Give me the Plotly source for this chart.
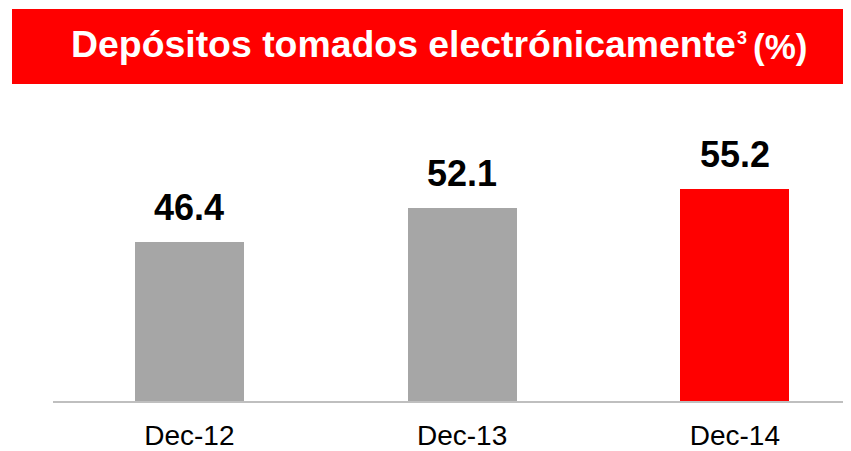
import plotly.graph_objects as go

categories = ["Dec-12", "Dec-13", "Dec-14"]
values = [46.4, 52.1, 55.2]
bar_colors = ["#a6a6a6", "#a6a6a6", "#ff0000"]
value_labels = ["46.4", "52.1", "55.2"]
title_main = "Depósitos tomados electrónicamente"
title_sup = "3"
title_tail = "(%)"

OFF = 8  # page body margin
W, H = 851 - OFF, 451 - OFF
L, R, T, B = 53 - OFF, 0, 80 - OFF, 451 - 405
pw, ph = W - L - R, H - T - B

def px_x(x):  # screen px -> paper
    return (x - OFF - L) / pw

def px_y(y):
    return (H - B - (y - OFF)) / ph

FONT = "Liberation Sans, Arial, sans-serif"

fig = go.Figure()
fig.add_trace(go.Bar(
    x=list(range(len(categories))), y=values,
    marker=dict(color=bar_colors, line=dict(width=0)),
    width=0.4, hoverinfo="skip", base=0,
))

for i, (v, lab) in enumerate(zip(values, value_labels)):
    fig.add_annotation(x=i, y=v, text=f"<b>{lab}</b>", showarrow=False,
                       yanchor="bottom", yshift=12,
                       font=dict(family=FONT, size=36, color="#000000"))

# banner
fig.add_shape(type="rect", xref="paper", yref="paper",
              x0=px_x(12), x1=px_x(853), y0=px_y(84), y1=px_y(8),
              fillcolor="#ff0000", line=dict(width=0), layer="above")
fig.add_annotation(xref="paper", yref="paper", x=px_x(69), y=px_y(44),
                   text=f"<b>{title_main}</b>",
                   showarrow=False, xanchor="left", yanchor="middle",
                   font=dict(family=FONT, size=37.4, color="#ffffff"))
fig.add_annotation(xref="paper", yref="paper", x=px_x(734.5), y=px_y(37),
                   text=f"<b>{title_sup}</b>",
                   showarrow=False, xanchor="left", yanchor="middle",
                   font=dict(family=FONT, size=18, color="#ffffff"))
fig.add_annotation(xref="paper", yref="paper", x=px_x(809), y=px_y(46),
                   text=f"<b>{title_tail}</b>",
                   showarrow=False, xanchor="right", yanchor="middle",
                   font=dict(family=FONT, size=35, color="#ffffff"))

fig.update_layout(
    width=W, height=H,
    margin=dict(l=L, r=R, t=T, b=B, pad=0),
    paper_bgcolor="#ffffff", plot_bgcolor="#ffffff",
    showlegend=False,
    bargap=0,
    xaxis=dict(range=[-0.5, 2.426], tickmode="array",
               tickvals=list(range(len(categories))), ticktext=categories,
               showgrid=False, zeroline=False, showline=True,
               linecolor="#bfbfbf", linewidth=2,
               ticks="outside", ticklen=8, tickcolor="rgba(0,0,0,0)",
               tickfont=dict(family=FONT, size=28, color="#000000"),
               fixedrange=True),
    yaxis=dict(range=[20, 20 + ph / 6.1], visible=False, showgrid=False,
               zeroline=False, fixedrange=True),
)

fig.write_html("out.html")
